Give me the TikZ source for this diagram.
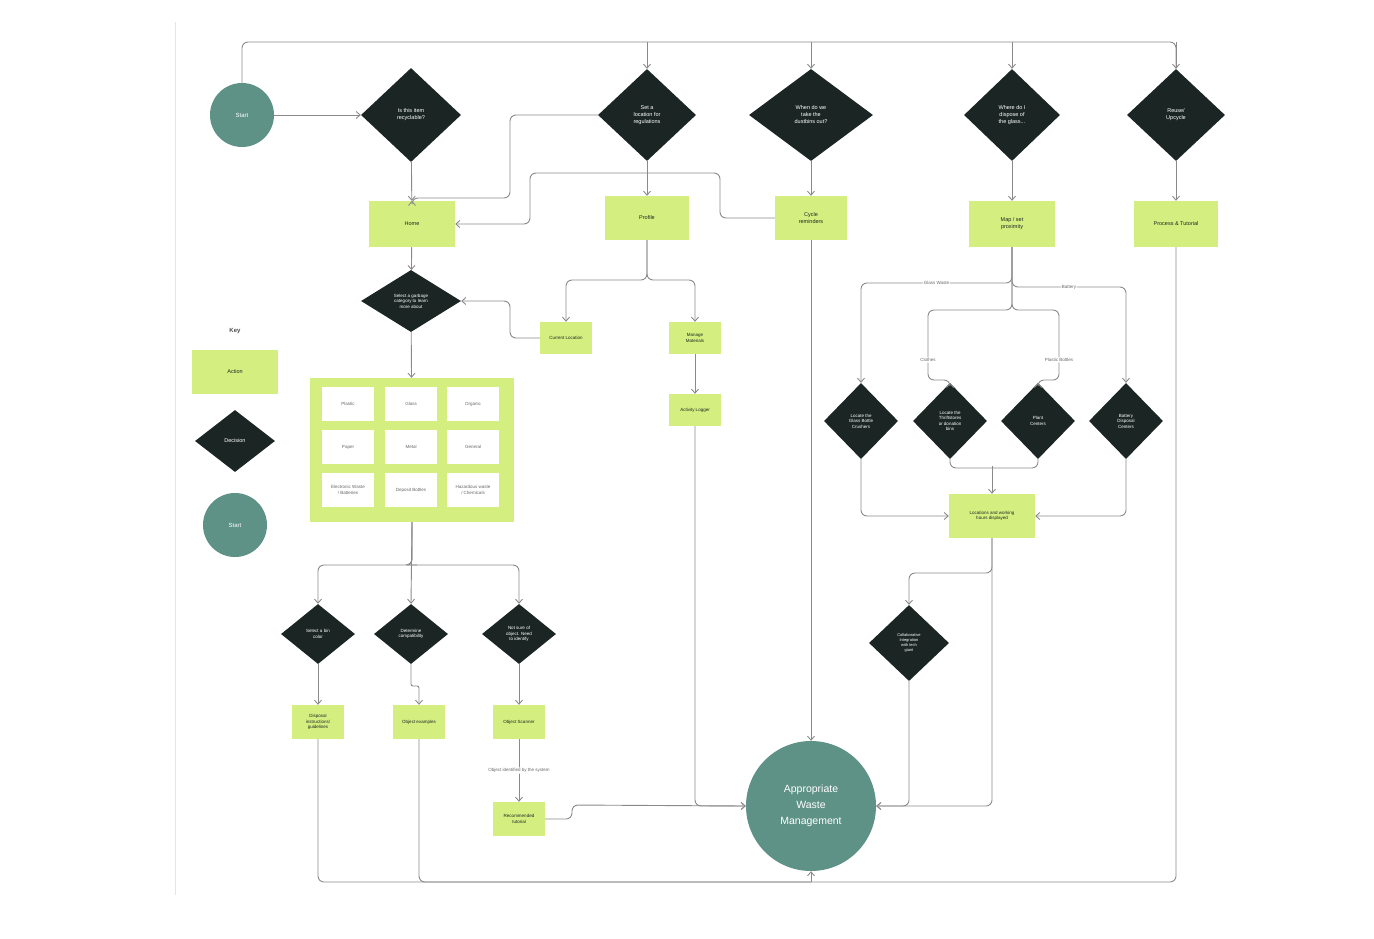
\documentclass[tikz,border=0pt]{standalone}
\usepackage{fontspec}
\setmainfont{Liberation Sans}
\usepackage{xcolor}
\usetikzlibrary{
    arrows.meta,
    positioning,
    shapes.geometric
}
\definecolor{dark}{HTML}{1B2624}
\definecolor{lime}{HTML}{D4EF7F}
\definecolor{teal}{HTML}{5E9287}
\definecolor{wire}{HTML}{8A8A8A}

\begin{document}
\begin{tikzpicture}[
    x=1pt, y=-1pt,
    >={Straight Barb[length=4pt,width=7pt]},
    decision_style/.style={
        diamond, fill=dark, text=white, align=center,
        inner sep=0pt, font=\fontsize{5.5}{7}\selectfont
    },
    action_style/.style={
        rectangle, fill=lime, text=dark, align=center,
        inner sep=1pt, font=\fontsize{5.5}{7}\selectfont
    },
    cell_style/.style={
        rectangle, fill=white, text=black!60, align=center,
        minimum width=52pt, minimum height=34pt, inner sep=1pt,
        font=\fontsize{4.5}{5.5}\selectfont
    },
    term_style/.style={
        circle, fill=teal, text=white, align=center, inner sep=0pt
    },
    edge_style/.style={
        draw=wire, line width=0.9pt, rounded corners=6pt
    },
    label_style/.style={
        fill=white, text=black!60, inner sep=1pt,
        font=\fontsize{4.5}{5.5}\selectfont
    }
]
\useasboundingbox (0,0) rectangle (1374,938);
\draw[black!10, line width=0.8pt] (175,22) -- (175,895);

% --- Top row ---
\node[term_style, minimum size=64pt, font=\fontsize{6}{7}\selectfont] (start) at (242,115) {Start};
\node[decision_style, minimum width=100pt, minimum height=94pt] (recyc) at (411,115) {Is this item\\recyclable?};
\node[decision_style, minimum width=98pt, minimum height=92pt] (loc) at (647,115) {Set a\\location for\\regulations};
\node[decision_style, minimum width=124pt, minimum height=92pt] (when) at (811,115) {When do we\\take the\\dustbins out?};
\node[decision_style, minimum width=96pt, minimum height=92pt] (glass) at (1012,115) {Where do I\\dispose of\\the glass...};
\node[decision_style, minimum width=98pt, minimum height=92pt] (reuse) at (1176,115) {Reuse/\\Upcycle};

% --- Action row ---
\node[action_style, minimum width=86pt, minimum height=46pt] (home) at (412,224) {Home};
\node[action_style, minimum width=84pt, minimum height=44pt] (profile) at (647,218) {Profile};
\node[action_style, minimum width=72pt, minimum height=44pt] (cycle) at (811,218) {Cycle\\reminders};
\node[action_style, minimum width=86pt, minimum height=46pt] (map) at (1012,224) {Map / set\\proximity};
\node[action_style, minimum width=84pt, minimum height=46pt] (tutorial) at (1176,224) {Process \& Tutorial};

% --- Home branch ---
\node[decision_style, minimum width=100pt, minimum height=62pt, font=\fontsize{4.5}{5.5}\selectfont] (category) at (411,301) {Select a garbage\\category to learn\\more about};
\node[action_style, minimum width=52pt, minimum height=32pt, font=\fontsize{4.5}{5.5}\selectfont] (current) at (566,338) {Current Location};
\node[action_style, minimum width=52pt, minimum height=32pt, font=\fontsize{4.5}{5.5}\selectfont] (manage) at (695,338) {Manage\\Materials};
\node[action_style, minimum width=52pt, minimum height=32pt, font=\fontsize{4.5}{5.5}\selectfont] (logger) at (695,410) {Activity Logger};

% category panel
\node[fill=lime, minimum width=204pt, minimum height=144pt] (panel) at (412,450) {};
\node[cell_style] at (348,404) {Plastic};
\node[cell_style] at (411,404) {Glass};
\node[cell_style] at (473,404) {Organic};
\node[cell_style] at (348,447) {Paper};
\node[cell_style] at (411,447) {Metal};
\node[cell_style] at (473,447) {General};
\node[cell_style] at (348,490) {Electronic Waste\\/ Batteries};
\node[cell_style] at (411,490) {Deposit Bottles};
\node[cell_style] at (473,490) {Hazardous waste\\/ Chemicals};

% --- Key ---
\node[font=\bfseries\fontsize{6}{7}\selectfont, text=black!70] (key) at (235,331) {Key};
\node[action_style, minimum width=86pt, minimum height=44pt] (keyaction) at (235,372) {Action};
\node[decision_style, minimum width=80pt, minimum height=62pt] (keydecision) at (235,441) {Decision};
\node[term_style, minimum size=64pt, font=\fontsize{6}{7}\selectfont] (keystart) at (235,525) {Start};

% --- Map branch ---
\node[decision_style, minimum width=74pt, minimum height=76pt, font=\fontsize{4.5}{5.5}\selectfont] (bottle) at (861,421) {Locate the\\Glass Bottle\\Crushers};
\node[decision_style, minimum width=74pt, minimum height=76pt, font=\fontsize{4.5}{5.5}\selectfont] (clothes) at (950,421) {Locate the\\Thriftstores\\or donation\\bins};
\node[decision_style, minimum width=74pt, minimum height=76pt, font=\fontsize{4.5}{5.5}\selectfont] (plant) at (1038,421) {Plant\\Centers};
\node[decision_style, minimum width=74pt, minimum height=76pt, font=\fontsize{4.5}{5.5}\selectfont] (battery) at (1126,421) {Battery\\Disposal\\Centers};
\node[action_style, minimum width=86pt, minimum height=44pt, font=\fontsize{4.5}{5.5}\selectfont] (hours) at (992,516) {Locations and working\\hours displayed};
\node[decision_style, minimum width=80pt, minimum height=76pt, font=\fontsize{4}{5}\selectfont] (collab) at (909,643) {Collaborative\\Integration\\with tech\\giant};

% --- Lower branch ---
\node[decision_style, minimum width=74pt, minimum height=60pt, font=\fontsize{4.5}{5.5}\selectfont] (bin) at (318,634) {Select a bin\\color};
\node[decision_style, minimum width=74pt, minimum height=60pt, font=\fontsize{4.5}{5.5}\selectfont] (compat) at (411,634) {Determine\\compatibility};
\node[decision_style, minimum width=74pt, minimum height=60pt, font=\fontsize{4.5}{5.5}\selectfont] (notsure) at (519,634) {Not sure of\\object. Need\\to identify};
\node[action_style, minimum width=52pt, minimum height=34pt, font=\fontsize{4.5}{5.5}\selectfont] (guide) at (318,722) {Disposal\\instructions/\\guidelines};
\node[action_style, minimum width=52pt, minimum height=34pt, font=\fontsize{4.5}{5.5}\selectfont] (examples) at (419,722) {Object examples};
\node[action_style, minimum width=52pt, minimum height=34pt, font=\fontsize{4.5}{5.5}\selectfont] (scanner) at (519,722) {Object Scanner};
\node[action_style, minimum width=52pt, minimum height=34pt, font=\fontsize{4.5}{5.5}\selectfont] (recommend) at (519,819) {Recommended\\tutorial};

\node[term_style, minimum size=130pt, font=\fontsize{10.5}{16}\selectfont] (waste) at (811,806) {Appropriate\\Waste\\Management};
\coordinate (bus) at (811,882);

% --- Edges ---
\draw[edge_style, ->] (start) -- (recyc);
\draw[edge_style] (start.north) |- (1176,42) -- (reuse.north);
\draw[edge_style, ->] (647,42) -- (loc);
\draw[edge_style, ->] (811,42) -- (when);
\draw[edge_style, ->] (1012,42) -- (glass);
\draw[edge_style, ->] (1176,42) -- (reuse);

\draw[edge_style, ->] (recyc) -- (home);
\draw[edge_style, ->] (loc.west) -| (510,198) -| (home.north);
\draw[edge_style, ->] (loc) -- (profile);
\draw[edge_style, ->] (cycle.west) -| (720,173) -| (530,224) -- (home.east);
\draw[edge_style, ->] (when) -- (cycle);
\draw[edge_style, ->] (glass) -- (map);
\draw[edge_style, ->] (reuse) -- (tutorial);

\draw[edge_style, ->] (home) -- (category);
\draw[edge_style, ->] (profile.south) |- (647,280) -| (current.north);
\draw[edge_style, ->] (profile.south) |- (647,280) -| (manage.north);
\draw[edge_style, ->] (current.west) -| (510,301) -- (category.east);
\draw[edge_style, ->] (manage) -- (logger);
\draw[edge_style, ->] (logger.south) |- (waste.west);
\draw[edge_style, ->] (cycle) -- (waste);
\draw[edge_style, ->] (category) -- (panel);

\draw[edge_style, ->] (panel.south) |- (411,565) -| (bin.north);
\draw[edge_style, ->] (panel.south) -- (compat.north);
\draw[edge_style, ->] (panel.south) |- (411,565) -| (notsure.north);
\draw[edge_style, ->] (bin) -- (guide);
\draw[edge_style, ->, rounded corners=2pt] (compat.south) -- (411,686) -| (examples.north);
\draw[edge_style, ->] (notsure) -- (scanner);
\draw[edge_style, ->] (scanner) -- node[label_style] {Object identified by the system} (recommend);
\draw[edge_style, ->] (recommend.east) -| (572,805) -- (waste.west);
\draw[edge_style] (guide.south) |- (bus);
\draw[edge_style] (examples.south) |- (bus);
\draw[edge_style] (tutorial.south) |- (bus);
\draw[edge_style, ->] (bus) -- (waste.south);

\draw[edge_style, ->] (map.south) |- (1012,283) -| node[label_style, pos=0.25] {Glass Waste} (bottle.north);
\draw[edge_style, ->] (map.south) |- (1012,287) -| node[label_style, pos=0.25] {Battery} (battery.north);
\draw[edge_style, ->] (map.south) |- (1012,310) -| (928,360) node[label_style] {Clothes} |- (950,380) -- (clothes.north);
\draw[edge_style, ->] (map.south) |- (1012,310) -| (1059,360) node[label_style] {Plastic Bottles} |- (1038,380) -- (plant.north);
\draw[edge_style, ->] (bottle.south) |- (hours.west);
\draw[edge_style, ->] (battery.south) |- (hours.east);
\draw[edge_style] (clothes.south) |- (992,468);
\draw[edge_style] (plant.south) |- (992,468);
\draw[edge_style, ->] (992,466) -- (hours.north);
\draw[edge_style, ->] (hours.south) |- (909,573) -- (collab.north);
\draw[edge_style, ->] (hours.south) |- (waste.east);
\draw[edge_style, ->] (collab.south) |- (waste.east);

\end{tikzpicture}
\end{document}
